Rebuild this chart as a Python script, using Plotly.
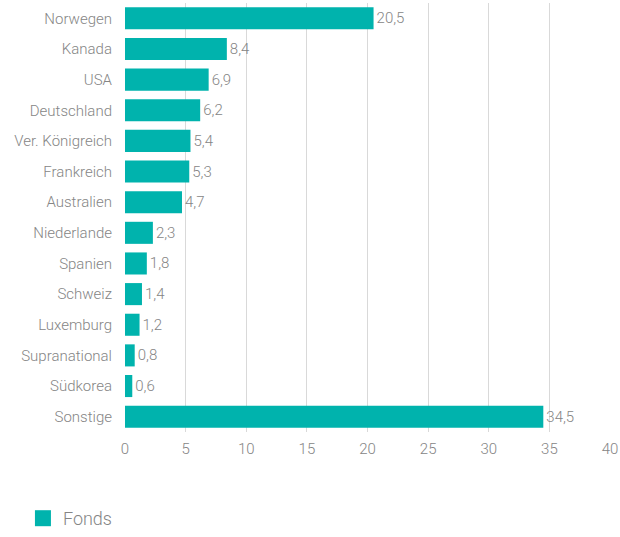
import plotly.graph_objects as go

countries = ["Norwegen", "Kanada", "USA", "Deutschland", "Ver. Königreich", "Frankreich",
             "Australien", "Niederlande", "Spanien", "Schweiz", "Luxemburg",
             "Supranational", "Südkorea", "Sonstige"]
fonds = [20.5, 8.4, 6.9, 6.2, 5.4, 5.3, 4.7, 2.3, 1.8, 1.4, 1.2, 0.8, 0.6, 34.5]
tick_vals = [0, 5, 10, 15, 20, 25, 30, 35, 40]

labels = [f"{v:.1f}".replace(".", ",") for v in fonds]
teal = "#00B3AD"
grey = "#858585"

fig = go.Figure()
fig.add_trace(go.Bar(
    y=countries, x=fonds, orientation="h", name="Fonds", showlegend=False,
    marker=dict(color=teal, line=dict(width=0)),
    text=labels, textposition="outside", cliponaxis=False,
    textfont=dict(color=grey, size=15, weight=300),
))
# legend entry with a larger square swatch
fig.add_trace(go.Scatter(
    x=[None], y=[None], mode="markers", name="Fonds",
    marker=dict(symbol="square", size=17, color=teal),
))

fig.update_layout(
    width=620, height=537,
    margin=dict(l=125, r=10, t=3, b=105),
    plot_bgcolor="white", paper_bgcolor="white",
    font=dict(family="Roboto, Arial, sans-serif", size=15, color=grey, weight=300),
    bargap=0.28,
    separators=",.",
    showlegend=True,
    legend=dict(orientation="h", xref="container", yref="paper",
                x=0.037, y=-0.232, xanchor="left", yanchor="middle",
                font=dict(size=18, color=grey, weight=300)),
    xaxis=dict(range=[0, 40], tickvals=tick_vals, showgrid=True,
               gridcolor="#d9d9d9", gridwidth=1, zeroline=False,
               showline=False, ticks="", ticklabelstandoff=6, automargin=False),
    yaxis=dict(autorange="reversed", showgrid=False, ticks="",
               showline=False, ticklabelstandoff=12, automargin=False),
)

fig.write_html("out.html", config={"displayModeBar": False},
               post_script="document.body.style.margin='0';document.body.style.overflow='hidden';")
